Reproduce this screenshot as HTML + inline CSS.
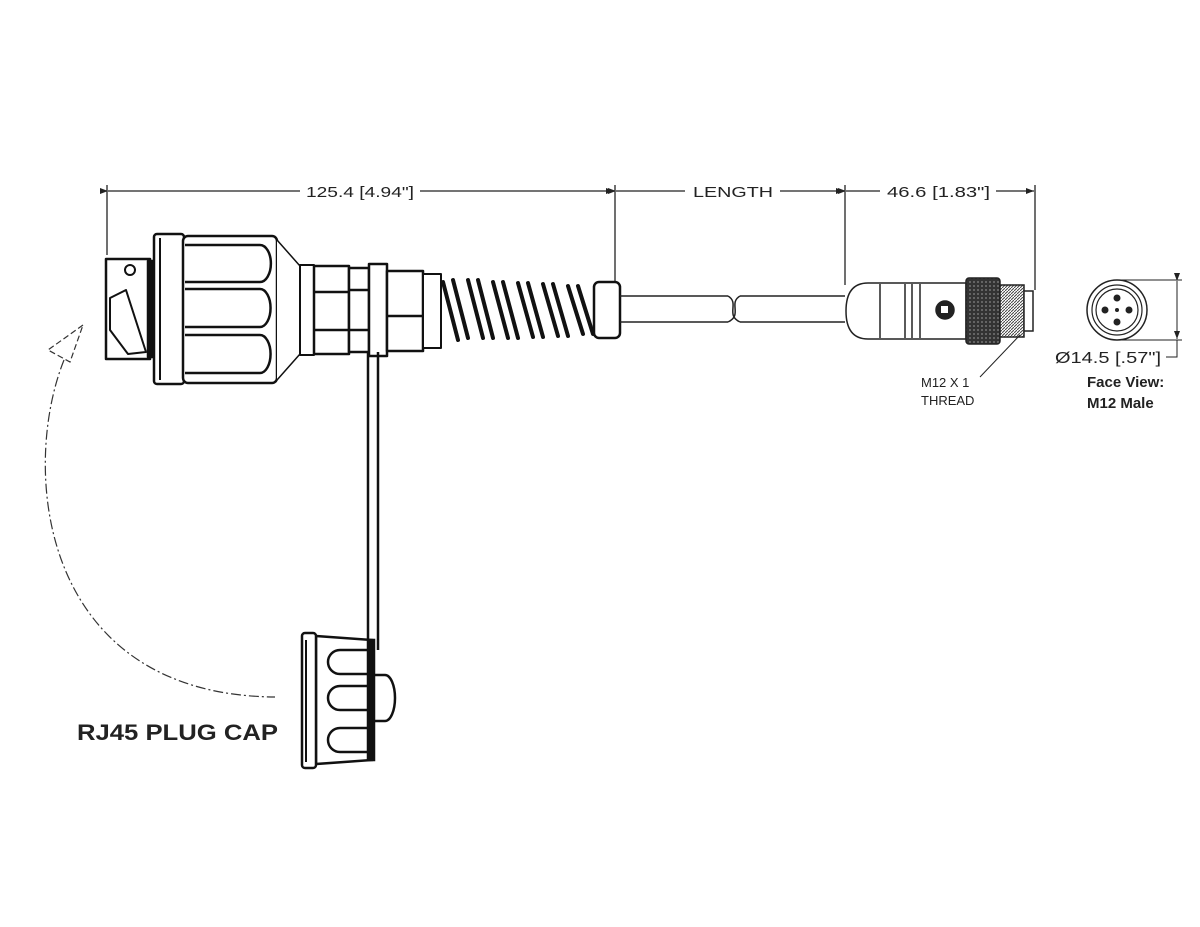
<!DOCTYPE html>
<html><head><meta charset="utf-8"><style>
html,body{margin:0;padding:0;background:#fff;}
svg{display:block;}
text{font-family:"Liberation Sans",Arial,sans-serif;fill:#222;}
</style></head><body>
<svg width="1200" height="927" viewBox="0 0 1200 927" xmlns="http://www.w3.org/2000/svg">
<defs>
<marker id="ar" markerWidth="8" markerHeight="6" refX="8" refY="3" orient="auto" markerUnits="userSpaceOnUse"><path d="M0,0 L8,3 L0,6 z" fill="#222"/></marker>
<pattern id="knurl" width="4" height="4" patternUnits="userSpaceOnUse"><rect width="4" height="4" fill="#333"/><circle cx="2" cy="2" r="0.9" fill="#888"/></pattern>
<pattern id="thr" width="3" height="3" patternUnits="userSpaceOnUse"><rect width="3" height="3" fill="#fff"/><path d="M0,3 L3,0" stroke="#444" stroke-width="1"/></pattern>
</defs>
<g stroke="#222" stroke-width="1.3" fill="none">
<line x1="107" y1="185" x2="107" y2="255"/>
<line x1="615" y1="185" x2="615" y2="285"/>
<line x1="845" y1="185" x2="845" y2="285"/>
<line x1="1035" y1="185" x2="1035" y2="290"/>
<line x1="108" y1="191" x2="300" y2="191" marker-start="url(#ar)"/>
<line x1="420" y1="191" x2="614" y2="191" marker-end="url(#ar)"/>
<line x1="616" y1="191" x2="685" y2="191" marker-start="url(#ar)"/>
<line x1="780" y1="191" x2="844" y2="191" marker-end="url(#ar)"/>
<line x1="846" y1="191" x2="880" y2="191" marker-start="url(#ar)"/>
<line x1="996" y1="191" x2="1034" y2="191" marker-end="url(#ar)"/>
</g>
<text x="306" y="197" font-size="15" textLength="108" lengthAdjust="spacingAndGlyphs">125.4 [4.94"]</text>
<text x="693" y="197" font-size="15" textLength="80" lengthAdjust="spacingAndGlyphs">LENGTH</text>
<text x="887" y="197" font-size="15" textLength="103" lengthAdjust="spacingAndGlyphs">46.6 [1.83"]</text>

<g stroke="#111" stroke-width="2.5" fill="#fff" stroke-linejoin="round">
<rect x="106" y="259" width="44" height="100"/>
<path d="M110,298 L126,290 L146,352 L128,354 L110,330 Z" stroke-width="2"/>
<circle cx="130" cy="270" r="5" stroke-width="2"/>
<rect x="148" y="261" width="6" height="96" fill="#111"/>
<rect x="154" y="234" width="30" height="150" rx="3"/>
<line x1="160" y1="238" x2="160" y2="380" stroke-width="2"/>
<rect x="183" y="236" width="94" height="147" rx="5"/>
<path d="M185,245 H260 A10,17 0 0 1 260,282 H185" />
<path d="M185,289 H260 A10,18 0 0 1 260,327 H185" />
<path d="M185,335 H260 A10,18 0 0 1 260,373 H185" />
<path d="M277,240 L300,266 L300,354 L277,380" stroke-width="1.5"/>
<rect x="300" y="265" width="14" height="90" stroke-width="2"/>
<rect x="314" y="266" width="35" height="88"/>
<line x1="314" y1="292" x2="349" y2="292"/><line x1="314" y1="330" x2="349" y2="330"/>
<rect x="349" y="268" width="20" height="84"/>
<line x1="349" y1="290" x2="369" y2="290"/><line x1="349" y1="330" x2="369" y2="330"/>
<rect x="369" y="264" width="18" height="92"/>
<rect x="387" y="271" width="36" height="80"/>
<line x1="387" y1="316" x2="423" y2="316"/>
<rect x="423" y="274" width="18" height="74" stroke-width="2"/>
<g stroke-width="4" stroke-linecap="round">
<path d="M443,282 L458,340 M453,280 L468,338"/>
<path d="M468,280 L483,338 M478,280 L493,338"/>
<path d="M493,282 L508,338 M503,282 L518,338"/>
<path d="M518,283 L533,337 M528,283 L543,337"/>
<path d="M543,284 L558,336 M553,284 L568,336"/>
<path d="M568,286 L583,334 M578,286 L593,334"/>
</g>
<rect x="594" y="282" width="26" height="56" rx="5"/>
</g>
<g stroke="#222" stroke-width="1.5" fill="none">
<line x1="620" y1="296" x2="728" y2="296"/>
<line x1="620" y1="322" x2="728" y2="322"/>
<line x1="740" y1="296" x2="845" y2="296"/>
<line x1="740" y1="322" x2="845" y2="322"/>
<path d="M728,296 C740,303 725,315 740,322"/>
<path d="M740,296 C728,303 743,315 728,322"/>
</g>
<g stroke="#111" stroke-width="2.5" fill="none">
<line x1="368" y1="352" x2="368" y2="650"/>
<line x1="378" y1="352" x2="378" y2="650"/>
</g>
<g stroke="#111" stroke-width="2.5" fill="#fff">
<path d="M316,636 L372,640 L372,760 L316,764 Z"/>
<rect x="302" y="633" width="14" height="135" rx="3"/>
<line x1="306" y1="640" x2="306" y2="762" stroke-width="2"/>
<path d="M368,650 H340 A12,12 0 0 0 340,674 H368" fill="none"/>
<path d="M368,686 H340 A12,12 0 0 0 340,710 H368" fill="none"/>
<path d="M368,728 H340 A12,12 0 0 0 340,752 H368" fill="none"/>
<rect x="368" y="640" width="6" height="120" fill="#111"/>
<path d="M374,675 H385 A10,23 0 0 1 385,721 H374 Z"/>
</g>
<path d="M64,360 C20,470 40,695 275,697" stroke="#333" stroke-width="1.2" fill="none" stroke-dasharray="10,3,2,3"/>
<path d="M83,325 L48,350 L70,362 Z" stroke="#333" stroke-width="1.2" fill="#fff" stroke-dasharray="6,3"/>
<text x="77" y="740" font-size="22" font-weight="bold" textLength="201" lengthAdjust="spacingAndGlyphs">RJ45 PLUG CAP</text>

<g stroke="#222" stroke-width="1.5" fill="#fff">
<path d="M868,283 H966 V339 H868 C850,339 846,325 846,311 C846,297 850,283 868,283 Z"/>
<line x1="880" y1="284" x2="880" y2="338"/>
<line x1="905" y1="284" x2="905" y2="338"/>
<line x1="912" y1="284" x2="912" y2="338"/>
<line x1="920" y1="284" x2="920" y2="338"/>
<circle cx="945" cy="310" r="9" fill="#222"/>
<rect x="941" y="306" width="7" height="7" fill="#fff" stroke="none"/>
<rect x="966" y="278" width="34" height="66" rx="3" fill="url(#knurl)"/>
<rect x="1000" y="285" width="24" height="52" fill="url(#thr)"/>
<rect x="1024" y="291" width="9" height="40"/>
</g>
<line x1="980" y1="377" x2="1020" y2="335" stroke="#222" stroke-width="1"/>
<text x="921" y="387" font-size="13" fill="#444">M12 X 1</text>
<text x="921" y="405" font-size="13" fill="#444">THREAD</text>
<g stroke="#222" fill="none">
<circle cx="1117" cy="310" r="30" stroke-width="1.5"/>
<circle cx="1117" cy="310" r="25" stroke-width="1.2"/>
<circle cx="1117" cy="310" r="21" stroke-width="1.2"/>
<line x1="1117" y1="280" x2="1182" y2="280" stroke-width="1"/>
<line x1="1117" y1="340" x2="1182" y2="340" stroke-width="1"/>
<line x1="1177" y1="281" x2="1177" y2="339" stroke-width="1" marker-start="url(#ar)" marker-end="url(#ar)"/>
<polyline points="1166,357 1177,357 1177,340" stroke-width="1"/>
</g>
<g fill="#222">
<circle cx="1117" cy="298" r="3.5"/><circle cx="1105" cy="310" r="3.5"/>
<circle cx="1129" cy="310" r="3.5"/><circle cx="1117" cy="322" r="3.5"/>
<circle cx="1117" cy="310" r="2"/>
</g>
<text x="1055" y="363" font-size="16" textLength="106" lengthAdjust="spacingAndGlyphs">Ø14.5 [.57"]</text>
<text x="1087" y="387" font-size="15" font-weight="bold">Face View:</text>
<text x="1087" y="408" font-size="15" font-weight="bold">M12 Male</text>
</svg>
</body></html>
